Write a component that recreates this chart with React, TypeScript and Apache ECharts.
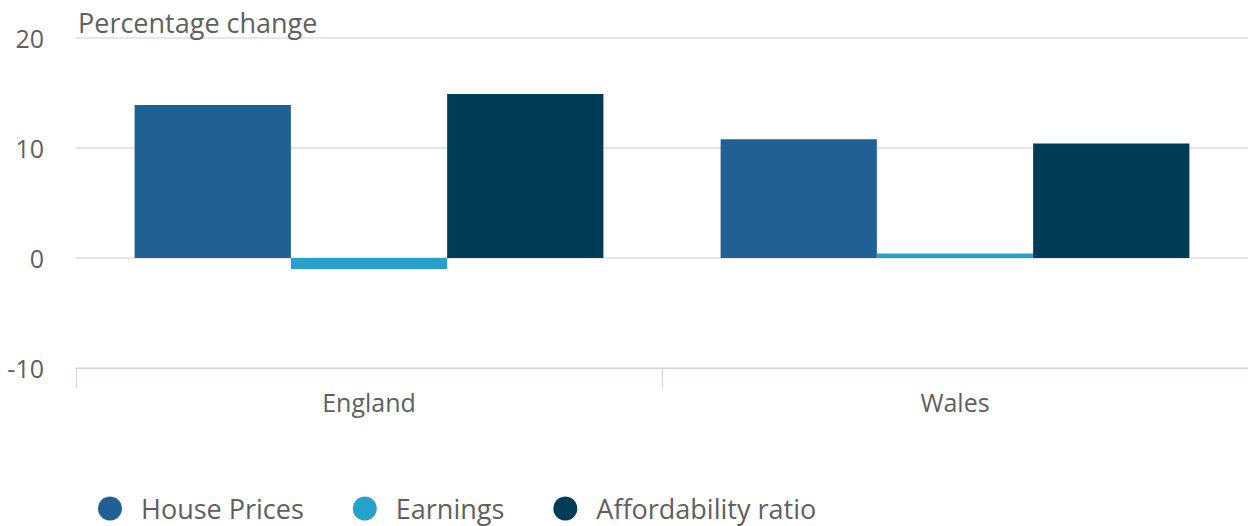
import React, { useEffect, useRef } from "react";
import * as echarts from "echarts";

const categories = ["England", "Wales"];
const housePrices = [13.9, 10.8];
const earnings = [-1.0, 0.4];
const affordability = [14.9, 10.4];
const seriesNames = ["House Prices", "Earnings", "Affordability ratio"];
const colors = ["#206095", "#27a0cc", "#003c57"];

export default function App() {
  const ref = useRef<HTMLDivElement>(null);
  useEffect(() => {
    const chart = echarts.init(ref.current!, null, { renderer: "svg" });
    const font = "'Open Sans', sans-serif";
    chart.setOption({
      animation: false,
      color: colors,
      textStyle: { fontFamily: font },
      grid: { left: 76, top: 38, right: -4, height: 330, containLabel: false },
      legend: {
        left: 93,
        top: 490,
        icon: "circle",
        itemWidth: 24,
        itemHeight: 24,
        itemGap: 49,
        data: seriesNames,
        textStyle: { fontFamily: font, fontSize: 27, color: "#5f5f5f", padding: [0, 0, 0, 14] },
      },
      xAxis: {
        type: "category",
        data: categories,
        axisLine: { onZero: false, lineStyle: { color: "#ccd6eb", width: 1 } },
        axisTick: { show: true, length: 20, lineStyle: { color: "#ccd6eb" } },
        axisLabel: { fontFamily: font, fontSize: 25, color: "#5f5f5f", margin: 21 },
      },
      yAxis: {
        type: "value",
        min: -10,
        max: 20,
        interval: 10,
        name: "Percentage change",
        nameLocation: "end",
        nameGap: 2,
        nameTextStyle: { fontFamily: font, fontSize: 27, color: "#5f5f5f", align: "left", padding: [0, 0, 0, 2] },
        axisLine: { show: false },
        axisTick: { show: false },
        axisLabel: { fontFamily: font, fontSize: 25, color: "#5f5f5f", margin: 32 },
        splitLine: { lineStyle: { color: "#e6e6e6", width: 2 } },
      },
      series: [
        { name: seriesNames[0], type: "bar", data: housePrices, barGap: "0%", barCategoryGap: "20%" },
        { name: seriesNames[1], type: "bar", data: earnings, barGap: "0%", barCategoryGap: "20%" },
        { name: seriesNames[2], type: "bar", data: affordability, barGap: "0%", barCategoryGap: "20%" },
      ],
    });
    return () => chart.dispose();
  }, []);
  return (
    <div
      ref={ref}
      style={{ position: "fixed", left: 0, top: 0, width: 1248, height: 526, background: "#fff" }}
    />
  );
}
